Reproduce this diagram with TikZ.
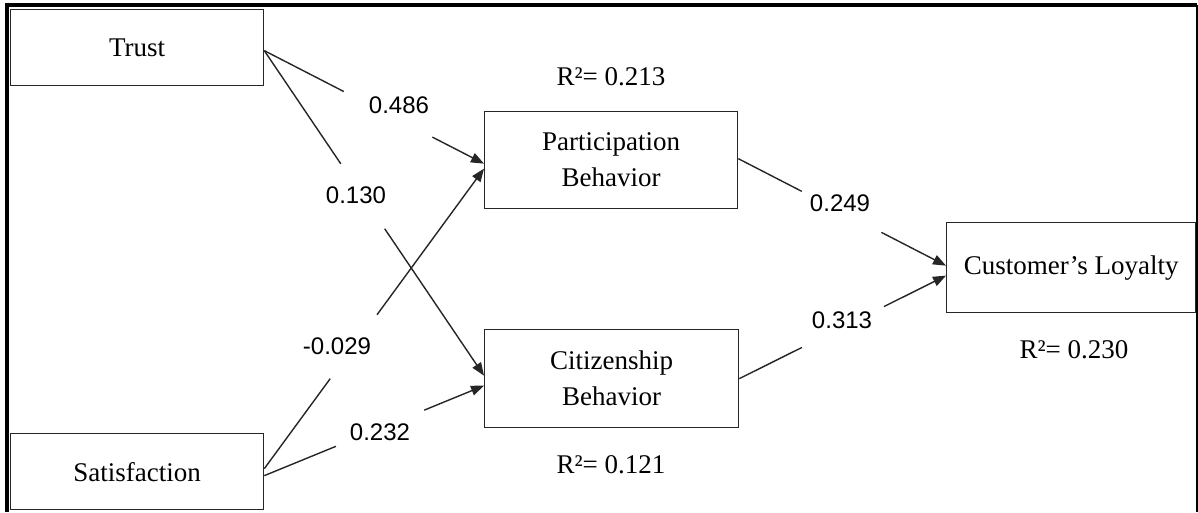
\documentclass[tikz,border=0pt]{standalone}
\usepackage{fontspec}
\setmainfont{Liberation Serif}
\newfontfamily\lblfont{Liberation Sans}
\usetikzlibrary{arrows.meta}
\begin{document}
\begin{tikzpicture}[x=1pt,y=-1pt,
  box/.style={draw=black!85, line width=1.3pt, rectangle, inner sep=0pt, anchor=north west, align=center, font=\fontsize{27}{36}\selectfont},
  conn/.style={draw=black!85, line width=1.4pt},
  arr/.style={conn, -{Triangle[length=13pt,width=10pt]}},
  coef/.style={font=\lblfont\fontsize{24}{28}\selectfont, inner sep=0pt},
  rsq/.style={font=\fontsize{27}{32}\selectfont, inner sep=0pt}]
\useasboundingbox (0,0) rectangle (1198,512);
\fill[white] (0,0) rectangle (1198,512);
% outer frame
\draw[line width=4pt] (7,512) -- (7,5) -- (1197,5);
\draw[line width=3pt] (1197,5) -- (1197,512);
% boxes
\node[box, minimum width=253pt, minimum height=76pt] (trust) at (10,9) {Trust};
\node[box, minimum width=253pt, minimum height=76pt] (sat) at (10,433) {Satisfaction};
\node[box, minimum width=253pt, minimum height=97pt] (part) at (484,111) {Participation\\Behavior};
\node[box, minimum width=254pt, minimum height=98pt] (cit) at (484,329) {Citizenship\\Behavior};
\node[box, minimum width=249pt, minimum height=90pt] (cust) at (946,222) {Customer’s Loyalty};
% R2 labels
\node[rsq] (r1) at (611,77) {R²= 0.213};
\node[rsq] (r2) at (611,465) {R²= 0.121};
\node[rsq] (r3) at (1074,350) {R²= 0.230};
% coefficient labels
\node[coef] (c1) at (399,105) {0.486};
\node[coef] (c2) at (356,195) {0.130};
\node[coef] (c3) at (337,346) {-0.029};
\node[coef] (c4) at (380,432) {0.232};
\node[coef] (c5) at (840,203) {0.249};
\node[coef] (c6) at (842,320) {0.313};
% Trust -> Participation
\path ([yshift=-3pt]trust.east) -- ([yshift=-3.5pt]part.west) coordinate[pos=0.362] (g1a) coordinate[pos=0.765] (g1b);
\draw[conn] ([yshift=-3pt]trust.east) -- (g1a);
\draw[arr] (g1b) -- ([yshift=-3.5pt]part.west);
% Trust -> Citizenship
\path ([yshift=-3pt]trust.east) -- ([yshift=3pt]cit.west) coordinate[pos=0.348] (g2a) coordinate[pos=0.548] (g2b);
\draw[conn] ([yshift=-3pt]trust.east) -- (g2a);
\draw[arr] (g2b) -- ([yshift=3pt]cit.west);
% Satisfaction -> Participation
\path ([yshift=3pt]sat.east) -- ([yshift=-8.5pt]part.west) coordinate[pos=0.30] (g3a) coordinate[pos=0.513] (g3b);
\draw[conn] ([yshift=3pt]sat.east) -- (g3a);
\draw[arr] (g3b) -- ([yshift=-8.5pt]part.west);
% Satisfaction -> Citizenship
\path ([yshift=-4pt]sat.east) -- ([yshift=-7pt]cit.west) coordinate[pos=0.326] (g4a) coordinate[pos=0.728] (g4b);
\draw[conn] ([yshift=-4pt]sat.east) -- (g4a);
\draw[arr] (g4b) -- ([yshift=-7pt]cit.west);
% Participation -> Loyalty
\path ([yshift=1.5pt]part.east) -- ([yshift=2pt]cust.west) coordinate[pos=0.306] (g5a) coordinate[pos=0.689] (g5b);
\draw[conn] ([yshift=1.5pt]part.east) -- (g5a);
\draw[arr] (g5b) -- ([yshift=2pt]cust.west);
% Citizenship -> Loyalty
\path (cit.east) -- ([yshift=-8pt]cust.west) coordinate[pos=0.303] (g6a) coordinate[pos=0.70] (g6b);
\draw[conn] (cit.east) -- (g6a);
\draw[arr] (g6b) -- ([yshift=-8pt]cust.west);
\end{tikzpicture}
\end{document}
